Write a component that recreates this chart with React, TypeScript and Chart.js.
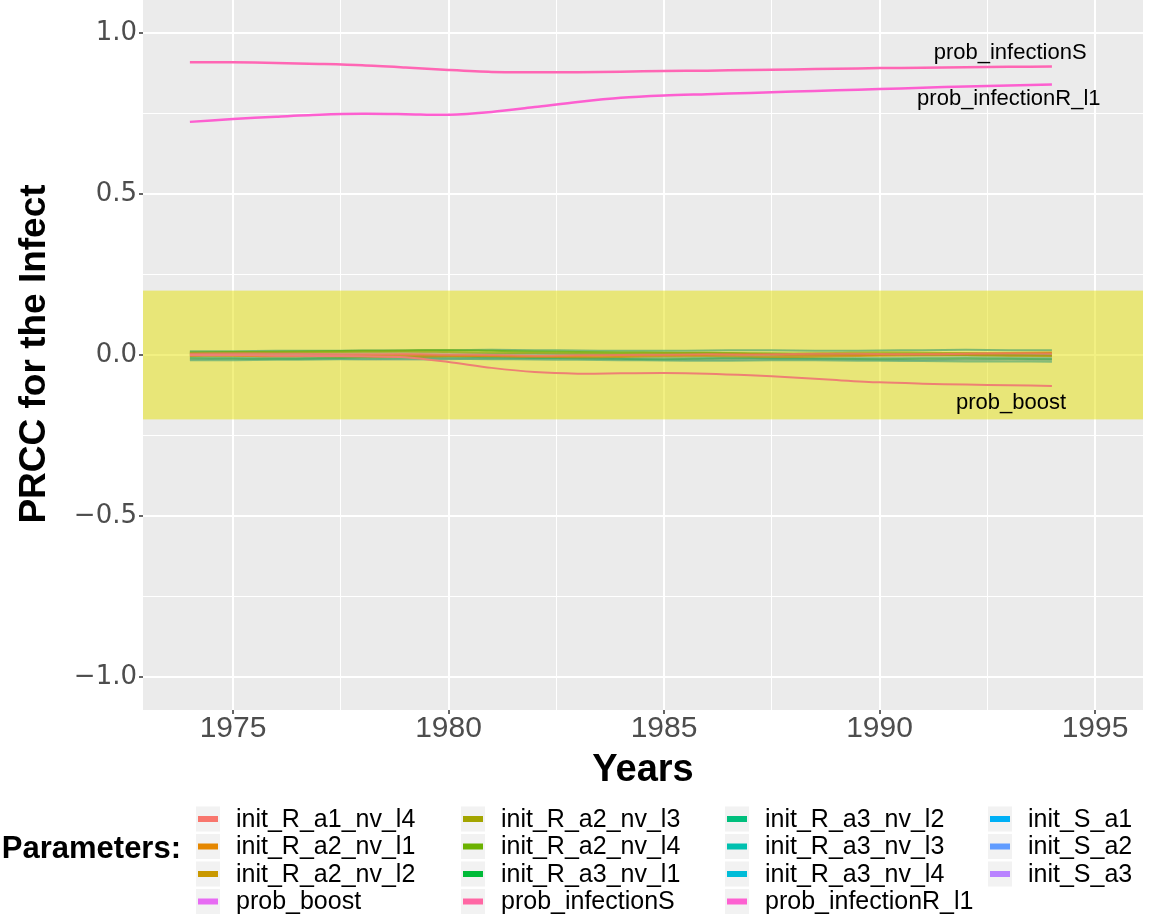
import React, { useEffect, useRef } from "react";
import { Chart, registerables } from "chart.js";

Chart.register(...registerables);

const years = [1974, 1975, 1976, 1977, 1978, 1979, 1980, 1981, 1982, 1983, 1984, 1985, 1986, 1987, 1988, 1989, 1990, 1991, 1992, 1993, 1994];

const init_R_a1_nv_l4 = [0.004, 0.005, 0.004, 0.003, 0.002, 0.003, 0.001, 0.0, -0.002, -0.001, 0.0, 0.001, 0.002, 0.001, 0.003, 0.004, 0.003, 0.002, 0.004, 0.005, 0.004];
const init_R_a2_nv_l1 = [-0.003, -0.002, -0.004, -0.003, -0.001, 0.0, -0.002, -0.004, -0.005, -0.003, -0.002, -0.001, 0.001, 0.002, 0.0, -0.001, 0.001, 0.003, 0.004, 0.006, 0.008];
const init_R_a2_nv_l2 = [0.001, -0.001, -0.002, -0.004, -0.005, -0.006, -0.004, -0.003, -0.005, -0.007, -0.006, -0.004, -0.003, -0.005, -0.006, -0.004, -0.002, -0.001, 0.0, -0.002, -0.003];
const init_R_a2_nv_l3 = [0.006, 0.007, 0.008, 0.009, 0.01, 0.011, 0.009, 0.007, 0.006, 0.005, 0.004, 0.006, 0.007, 0.005, 0.004, 0.006, 0.008, 0.007, 0.006, 0.005, 0.006];
const init_R_a2_nv_l4 = [0.008, 0.009, 0.01, 0.012, 0.013, 0.014, 0.015, 0.013, 0.011, 0.009, 0.008, 0.007, 0.006, 0.005, 0.004, 0.003, 0.002, 0.001, 0.0, -0.001, -0.002];
const init_R_a3_nv_l1 = [-0.01, -0.011, -0.012, -0.01, -0.008, -0.006, -0.005, -0.007, -0.009, -0.01, -0.012, -0.013, -0.011, -0.009, -0.01, -0.012, -0.013, -0.012, -0.011, -0.012, -0.013];
const init_R_a3_nv_l2 = [0.012, 0.012, 0.013, 0.013, 0.014, 0.014, 0.015, 0.016, 0.015, 0.014, 0.013, 0.013, 0.014, 0.015, 0.014, 0.013, 0.014, 0.015, 0.016, 0.015, 0.015];
const init_R_a3_nv_l3 = [-0.016, -0.016, -0.015, -0.014, -0.013, -0.012, -0.012, -0.013, -0.014, -0.015, -0.016, -0.017, -0.018, -0.017, -0.016, -0.017, -0.018, -0.019, -0.02, -0.02, -0.021];
const init_R_a3_nv_l4 = [-0.006, -0.007, -0.008, -0.007, -0.006, -0.008, -0.009, -0.01, -0.011, -0.01, -0.009, -0.008, -0.009, -0.01, -0.011, -0.01, -0.009, -0.008, -0.007, -0.008, -0.009];
const init_S_a1 = [0.002, 0.003, 0.002, 0.001, 0.0, -0.001, 0.0, 0.002, 0.003, 0.002, 0.001, 0.0, -0.002, -0.003, -0.002, -0.001, 0.0, 0.001, 0.0, -0.001, 0.0];
const init_S_a2 = [-0.013, -0.012, -0.011, -0.012, -0.013, -0.014, -0.013, -0.011, -0.01, -0.011, -0.013, -0.014, -0.015, -0.014, -0.013, -0.014, -0.015, -0.016, -0.015, -0.014, -0.015];
const init_S_a3 = [0.009, 0.008, 0.006, 0.005, 0.006, 0.007, 0.005, 0.004, 0.005, 0.003, 0.002, 0.003, 0.004, 0.002, 0.001, 0.002, 0.003, 0.004, 0.003, 0.002, 0.003];
const prob_boost = [0.0, 0.0, -0.002, -0.003, -0.004, -0.007, -0.022, -0.04, -0.053, -0.058, -0.057, -0.056, -0.058, -0.063, -0.07, -0.078, -0.085, -0.089, -0.092, -0.094, -0.096];
const prob_infectionS = [0.909, 0.909, 0.907, 0.904, 0.9, 0.893, 0.885, 0.879, 0.878, 0.878, 0.88, 0.882, 0.883, 0.885, 0.887, 0.889, 0.891, 0.892, 0.894, 0.895, 0.896];
const prob_infectionR_l1 = [0.724, 0.733, 0.74, 0.746, 0.749, 0.748, 0.746, 0.755, 0.77, 0.786, 0.799, 0.806, 0.81, 0.814, 0.818, 0.822, 0.826, 0.83, 0.834, 0.837, 0.84];

const seriesNames = [
  "init_R_a1_nv_l4", "init_R_a2_nv_l1", "init_R_a2_nv_l2", "init_R_a2_nv_l3", "init_R_a2_nv_l4",
  "init_R_a3_nv_l1", "init_R_a3_nv_l2", "init_R_a3_nv_l3", "init_R_a3_nv_l4",
  "init_S_a1", "init_S_a2", "init_S_a3", "prob_boost", "prob_infectionS", "prob_infectionR_l1",
];
const seriesValues = [
  init_R_a1_nv_l4, init_R_a2_nv_l1, init_R_a2_nv_l2, init_R_a2_nv_l3, init_R_a2_nv_l4,
  init_R_a3_nv_l1, init_R_a3_nv_l2, init_R_a3_nv_l3, init_R_a3_nv_l4,
  init_S_a1, init_S_a2, init_S_a3, prob_boost, prob_infectionS, prob_infectionR_l1,
];
const legendColors = [
  "#F8766D", "#E58700", "#C99800", "#A3A500", "#6BB100",
  "#00BA38", "#00BF7D", "#00C0AF", "#00BCD8",
  "#00B0F6", "#619CFF", "#B983FF", "#E76BF3", "#FF67A4", "#FD61D1",
];
const lineColors = [
  "rgba(240,120,100,0.8)", "rgba(220,135,20,0.75)", "rgba(190,150,20,0.75)", "rgba(150,170,20,0.75)", "rgba(100,175,20,0.8)",
  "rgba(60,170,80,0.65)", "rgba(90,170,110,0.75)", "rgba(90,170,120,0.7)", "rgba(110,170,130,0.65)",
  "rgba(120,170,140,0.65)", "rgba(120,160,140,0.65)", "rgba(170,150,140,0.6)", "#EE8074", "#FF66B4", "#FD5FD0",
];

// legend grid (columns of names, top to bottom)
const legendColumns = [
  ["init_R_a1_nv_l4", "init_R_a2_nv_l1", "init_R_a2_nv_l2", "prob_boost"],
  ["init_R_a2_nv_l3", "init_R_a2_nv_l4", "init_R_a3_nv_l1", "prob_infectionS"],
  ["init_R_a3_nv_l2", "init_R_a3_nv_l3", "init_R_a3_nv_l4", "prob_infectionR_l1"],
  ["init_S_a1", "init_S_a2", "init_S_a3"],
];

const yTicks = [-1, -0.75, -0.5, -0.25, 0, 0.25, 0.5, 0.75, 1];
const xTicks = [1975, 1977.5, 1980, 1982.5, 1985, 1987.5, 1990, 1992.5, 1995];
const bandLow = -0.2;
const bandHigh = 0.2;

const textLabels = ["prob_infectionS", "prob_infectionR_l1", "prob_boost"];
const textLabelX = [1993.03, 1993.0, 1993.05];
const textLabelY = [0.919, 0.775, -0.168];

const isMajorY = (v: number) => Math.abs(v * 2 - Math.round(v * 2)) < 1e-6;
const isMajorX = (v: number) => Math.abs(v / 5 - Math.round(v / 5)) < 1e-6;
const fmtY = (v: number) => (v < 0 ? "\u2212" : "") + Math.abs(v).toFixed(1);

const decorPlugin = {
  id: "decor",
  beforeDraw(chart: any) {
    const { ctx, chartArea: a } = chart;
    ctx.save();
    ctx.fillStyle = "#FFFFFF";
    ctx.fillRect(0, 0, chart.width, chart.height);
    ctx.fillStyle = "#EBEBEB";
    ctx.fillRect(a.left, a.top, a.right - a.left, a.bottom - a.top);
    ctx.restore();
  },
  beforeDatasetsDraw(chart: any) {
    const { ctx, chartArea: a, scales } = chart;
    const y1 = scales.y.getPixelForValue(bandHigh);
    const y2 = scales.y.getPixelForValue(bandLow);
    ctx.save();
    ctx.fillStyle = "rgba(229,225,0,0.49)";
    ctx.fillRect(a.left, y1, a.right - a.left, y2 - y1);
    ctx.restore();
  },
  afterDraw(chart: any) {
    const { ctx, chartArea: a, scales } = chart;
    ctx.save();
    ctx.fillStyle = "#000000";
    ctx.font = "22px 'Liberation Sans', Arial, sans-serif";
    ctx.textAlign = "center";
    ctx.textBaseline = "alphabetic";
    textLabels.forEach((t, i) => {
      ctx.fillText(t, scales.x.getPixelForValue(textLabelX[i]), scales.y.getPixelForValue(textLabelY[i]));
    });
    ctx.save();
    ctx.translate(35, 354);
    ctx.rotate(-Math.PI / 2);
    ctx.font = "bold 37px 'Liberation Sans', Arial, sans-serif";
    ctx.textAlign = "center";
    ctx.textBaseline = "middle";
    ctx.fillText("PRCC for the Infect", 0, 0);
    ctx.restore();
    ctx.font = "bold 38px 'Liberation Sans', Arial, sans-serif";
    ctx.textAlign = "center";
    ctx.textBaseline = "middle";
    ctx.fillText("Years", (a.left + a.right) / 2, 771);
    ctx.font = "bold 31px 'Liberation Sans', Arial, sans-serif";
    ctx.textAlign = "right";
    ctx.textBaseline = "middle";
    ctx.fillText("Parameters:", 181, 849);
    const colX = [198, 463, 727, 990];
    const rowY = [819, 846.5, 874, 901.5];
    ctx.font = "25px 'Liberation Sans', Arial, sans-serif";
    ctx.textAlign = "left";
    legendColumns.forEach((col, ci) => {
      col.forEach((name, ri) => {
        const idx = seriesNames.indexOf(name);
        const x = colX[ci];
        const y = rowY[ri];
        ctx.fillStyle = "#F2F2F2";
        ctx.fillRect(x - 2, y - 12.5, 24, 25);
        ctx.fillStyle = legendColors[idx];
        ctx.fillRect(x, y - 3, 20, 6);
        ctx.fillStyle = "#000000";
        ctx.fillText(name, x + 38, y + 1);
      });
    });
    ctx.restore();
  },
};

export default function App() {
  const ref = useRef<HTMLCanvasElement | null>(null);
  useEffect(() => {
    document.body.style.margin = "0";
    const canvas = ref.current;
    if (!canvas) return;
    const datasets = seriesNames.map((name, i) => ({
      label: name,
      data: years.map((yr, j) => ({ x: yr, y: seriesValues[i][j] })),
      borderColor: lineColors[i],
      backgroundColor: lineColors[i],
      borderWidth: i >= 13 ? 2.5 : 2,
      pointRadius: 0,
      tension: 0.3,
      fill: false,
      order: i >= 12 ? 0 : 1,
    }));
    const chart = new Chart(canvas, {
      type: "line",
      data: { datasets },
      options: {
        responsive: false,
        animation: false,
        events: [],
        layout: { padding: { top: 0, right: 6, bottom: 0, left: 0 } },
        plugins: { legend: { display: false }, tooltip: { enabled: false } },
        scales: {
          x: {
            type: "linear",
            min: 1972.912,
            max: 1996.113,
            afterBuildTicks: (s: any) => {
              s.ticks = xTicks.map((v) => ({ value: v }));
            },
            afterFit: (s: any) => {
              s.height = 210;
              s.paddingLeft = 0;
              s.paddingRight = 0;
            },
            border: { display: false },
            grid: {
              color: "#FFFFFF",
              lineWidth: (c: any) => (isMajorX(c.tick.value) ? 2 : 1),
              tickColor: (c: any) => (isMajorX(c.tick.value) ? "#333333" : "rgba(0,0,0,0)"),
              tickLength: 4,
              tickWidth: 1.5,
            },
            ticks: {
              autoSkip: false,
              maxRotation: 0,
              padding: -3,
              color: "#4D4D4D",
              font: { family: "'Liberation Sans', Arial, sans-serif", size: 30 },
              callback: (v: any) => (isMajorX(Number(v)) ? String(v) : ""),
            },
          },
          y: {
            type: "linear",
            min: -1.1025,
            max: 1.1025,
            afterBuildTicks: (s: any) => {
              s.ticks = yTicks.map((v) => ({ value: v }));
            },
            afterFit: (s: any) => {
              s.width = 143;
              s.paddingTop = 0;
              s.paddingBottom = 0;
            },
            border: { display: false },
            grid: {
              color: "#FFFFFF",
              lineWidth: (c: any) => (isMajorY(c.tick.value) ? 2 : 1),
              tickColor: (c: any) => (isMajorY(c.tick.value) ? "#333333" : "rgba(0,0,0,0)"),
              tickLength: 4,
              tickWidth: 1.5,
            },
            ticks: {
              autoSkip: false,
              padding: 2,
              color: "#4D4D4D",
              font: { family: "'DejaVu Sans', sans-serif", size: 26 },
              callback: (v: any) => (isMajorY(Number(v)) ? fmtY(Number(v)) : ""),
            },
          },
        },
      },
      plugins: [decorPlugin],
    } as any);
    return () => chart.destroy();
  }, []);
  return (
    <div style={{ position: "absolute", left: 0, top: 0, width: 1149, height: 920 }}>
      <canvas ref={ref} width={1149} height={920} style={{ display: "block" }} />
    </div>
  );
}
